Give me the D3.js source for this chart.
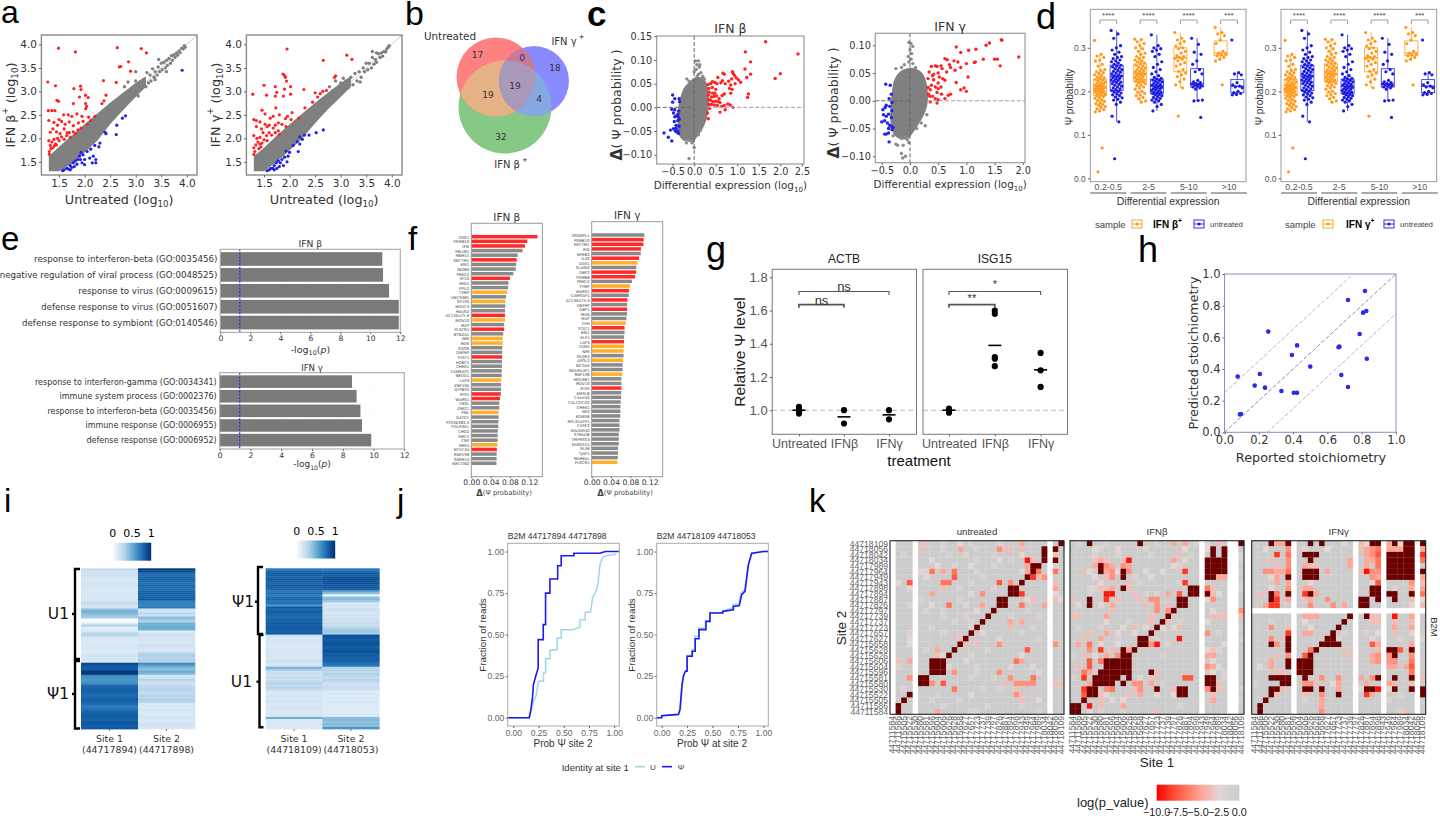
<!DOCTYPE html>
<html><head><meta charset="utf-8">
<style>html,body{margin:0;padding:0;background:#fff;overflow:hidden}svg{display:block}</style>
<script src="https://cdnjs.cloudflare.com/ajax/libs/d3/7.8.5/d3.min.js"></script>
</head><body>
<script>
// ---------- DATA: panel a ----------
const aCloudX=[1.3,1.5,1.75,2.0,2.25,2.5,2.75,3.0,3.2];
const a1Upper=[1.62,1.82,2.06,2.3,2.53,2.76,2.97,3.18,3.32];
const a1Lower=[1.3,1.3,1.46,1.7,1.95,2.3,2.6,2.88,3.1];
const a2Upper=[1.62,1.8,2.06,2.3,2.53,2.76,2.97,3.18,3.32];
const a2Lower=[1.3,1.3,1.5,1.74,2.0,2.32,2.62,2.88,3.1];
const a1Red=[[1.49,3.92],[1.82,3.84],[2.64,3.93],[3.11,3.91],[3.21,3.82],[2.86,3.63],[2.68,3.52],[2.71,3.53],[1.28,3.2],[1.43,3.12],[2.37,3.23],[2.62,3.19],[2.9,3.43],[1.79,3.06],[1.92,3.11],[1.93,3.04],[1.46,2.81],[1.49,2.79],[1.9,2.88],[2.02,2.92],[2.07,2.87],[2.02,2.74],[2.42,2.92],[2.34,2.74],[2.38,2.8],[2.02,2.63],[1.78,2.74],[2.04,2.68],[1.29,2.59],[1.36,2.59],[1.42,2.59],[1.3,2.38],[1.5,2.4],[1.59,2.5],[1.68,2.5],[1.75,2.47],[1.85,2.52],[1.95,2.47],[2.08,2.45],[2.2,2.47],[1.4,2.34],[1.47,2.28],[1.55,2.36],[1.62,2.3],[1.7,2.35],[1.78,2.27],[1.88,2.33],[1.97,2.36],[2.05,2.3],[2.12,2.38],[1.33,2.13],[1.38,2.2],[1.45,2.14],[1.52,2.1],[1.6,2.2],[1.66,2.12],[1.72,2.02],[1.78,2.14],[1.82,2.1],[1.87,2.18],[1.93,2.22],[1.3,1.95],[1.33,1.85],[1.36,1.92],[1.4,1.98],[1.43,1.88],[1.47,2.0],[1.5,1.95],[1.55,2.03],[1.6,1.98],[1.31,1.72],[1.34,1.78],[1.38,1.8],[1.41,1.84],[1.45,1.86],[1.31,1.66],[1.65,2.06],[1.7,2.12]];
const a1Blue=[[3.91,3.45],[2.8,2.48],[2.74,2.43],[2.63,2.28],[2.62,2.08],[2.42,2.1],[2.4,2.13],[2.3,1.9],[2.28,1.82],[2.2,1.85],[2.12,1.77],[2.17,1.62],[2.22,1.55],[2.22,1.48],[2.1,1.58],[2.0,1.55],[1.97,1.65],[1.93,1.7],[2.05,1.72],[1.87,1.55],[1.9,1.62],[1.82,1.52],[1.85,1.45],[1.95,1.48],[1.78,1.48],[1.75,1.38],[1.72,1.42],[1.68,1.35],[1.65,1.36],[1.6,1.33],[1.57,1.31],[1.72,1.33],[1.8,1.4],[1.92,1.55],[2.0,1.44],[2.15,1.48]];
const a1Grey=[[2.9,3.02],[2.95,2.98],[3.0,3.22],[3.05,3.02],[3.08,3.2],[3.12,3.1],[3.15,3.25],[3.2,3.1],[3.22,3.4],[3.25,3.18],[3.28,3.35],[3.3,3.22],[3.33,3.48],[3.36,3.3],[3.38,3.42],[3.42,3.35],[3.44,3.52],[3.47,3.42],[3.5,3.6],[3.52,3.46],[3.55,3.62],[3.58,3.5],[3.6,3.66],[3.62,3.55],[3.65,3.7],[3.68,3.6],[3.7,3.76],[3.72,3.66],[3.75,3.78],[3.77,3.72],[3.8,3.82],[3.82,3.77],[3.85,3.86],[3.87,3.82],[3.9,3.92],[3.93,3.9],[3.95,3.97],[3.97,3.94],[3.0,3.42],[3.38,3.25],[3.05,2.9],[3.6,3.42],[3.45,3.68],[2.78,3.1],[2.85,3.2]];
const a2Red=[[1.95,3.9],[2.66,3.66],[3.12,3.77],[3.22,3.68],[2.9,3.33],[2.88,3.3],[1.87,3.37],[1.9,3.34],[1.92,3.3],[1.94,3.22],[1.28,2.94],[1.5,3.13],[1.72,3.1],[1.55,2.92],[1.75,2.98],[1.9,3.05],[2.02,3.1],[2.02,2.94],[2.28,3.04],[2.5,2.97],[2.65,3.0],[2.72,3.02],[2.6,2.95],[2.55,2.88],[1.72,2.9],[1.88,2.9],[2.45,2.77],[2.3,2.65],[1.3,2.4],[1.35,2.38],[1.46,2.6],[1.52,2.52],[1.73,2.65],[1.8,2.5],[1.68,2.47],[1.62,2.43],[1.92,2.42],[1.96,2.47],[2.05,2.55],[2.18,2.43],[1.35,2.25],[1.42,2.35],[1.45,2.2],[1.52,2.3],[1.56,2.25],[1.6,2.28],[1.68,2.22],[1.72,2.28],[1.78,2.33],[1.85,2.3],[1.93,2.25],[2.03,2.4],[1.3,2.06],[1.36,2.0],[1.42,2.02],[1.48,2.12],[1.55,2.06],[1.6,2.12],[1.65,2.07],[1.72,2.12],[1.78,2.16],[1.8,2.08],[1.3,1.8],[1.34,1.86],[1.38,1.92],[1.42,1.88],[1.46,1.9],[1.5,1.97],[1.56,1.95],[1.32,1.72],[1.4,1.78],[1.44,1.82],[1.3,1.66]];
const a2Blue=[[2.66,2.18],[2.52,2.12],[2.38,2.07],[2.29,2.07],[2.25,1.98],[2.2,2.03],[2.15,1.93],[2.2,1.88],[2.07,1.85],[2.17,1.72],[2.0,1.7],[1.97,1.62],[1.93,1.73],[1.9,1.6],[1.85,1.55],[1.82,1.48],[1.88,1.42],[1.78,1.52],[1.74,1.48],[1.7,1.42],[1.67,1.36],[1.63,1.36],[1.6,1.33],[1.56,1.31],[1.75,1.36],[1.8,1.4],[1.7,1.33],[1.95,1.5]];
const a2Grey=[[2.85,3.02],[2.92,2.95],[3.0,3.18],[3.05,3.0],[3.1,3.22],[3.15,3.08],[3.2,3.3],[3.24,3.14],[3.28,3.38],[3.32,3.22],[3.36,3.42],[3.4,3.3],[3.44,3.5],[3.47,3.42],[3.5,3.6],[3.53,3.46],[3.56,3.6],[3.6,3.5],[3.62,3.72],[3.65,3.58],[3.68,3.68],[3.7,3.62],[3.74,3.8],[3.77,3.72],[3.8,3.82],[3.82,3.75],[3.85,3.85],[3.88,3.84],[3.9,3.9],[3.93,3.94],[3.95,3.97],[3.7,3.82],[3.05,3.28],[3.38,3.2],[2.9,3.22],[2.78,3.1],[3.62,3.85]];

// ---------- DATA: panel b ----------
const vennSets=[{key:"G",color:"#86c886",cx:505,cy:107,r:46.5},{key:"R",color:"#ff8080",cx:496,cy:77,r:39.5},{key:"B",color:"#8a8aff",cx:534,cy:81,r:35}];
const vennRegions=[{sets:["R","G"],color:"#e6b184"},{sets:["G","B"],color:"#85a9e2"},{sets:["R","B"],color:"#c97a90"},{sets:["R","G","B"],color:"#a999ba"}];
const vennCounts=[17,0,18,19,19,4,32];

// ---------- DATA: panel c ----------
const c1Cloud=[[-.3,.02],[-.22,.04],[-.1,.052],[0,.06],[.1,.062],[.22,.058],[.3,.04],[.32,.012],[.28,-.02],[.2,-.04],[.1,-.055],[0,-.067],[-.1,-.07],[-.24,-.068],[-.33,-.058],[-.36,-.04],[-.36,-.01]];
const c1Grey=[[.03,.098],[.1,.098],[.06,.09],[.13,.09],[.05,.08],[.12,.085],[0,.075],[.16,.073],[-.17,.06],[.07,.065],[.1,.07],[.18,.062],[-.12,.055],[.24,.06],[.2,.065],[-.15,-.068],[-.18,-.075],[-.05,-.075],[0,-.085],[-.02,-.072],[-.1,-.07],[.1,-.058],[.15,-.048],[-.12,-.108]];
const c1Red=[[1.66,.1385],[2.41,.1125],[1.19,.117],[1.31,.096],[1.18,.081],[1.88,.061],[2.0,.071],[1.31,.07],[1.22,.063],[1.26,.028],[1.24,.021],[.89,.075],[.67,.072],[.91,.071],[.94,.067],[.7,.07],[.98,.062],[1.03,.058],[1.08,.053],[.87,.06],[.8,.055],[.66,.056],[.62,.052],[.95,.05],[.85,.047],[.72,.05],[.88,.038],[.82,.04],[.42,.054],[.48,.053],[.38,.05],[.32,.048],[.55,.063],[.53,.05],[.34,.04],[.42,.042],[.5,.038],[.35,.032],[.43,.03],[.48,.03],[.33,.026],[.4,.022],[.46,.023],[.52,.024],[.58,.018],[.65,.025],[.7,.028],[.85,.03],[.33,.016],[.38,.015],[.44,.012],[.5,.013],[.56,.012],[.6,.01],[.34,.006],[.4,.006],[.47,.005],[.54,.004],[.64,.002],[.7,.004],[.78,.007],[.84,.005],[.9,0],[.6,-.01],[.72,-.005],[.31,-.012],[.33,-.024],[.36,-.002]];
const c1Blue=[[-.7,-.054],[-.6,-.063],[-.55,-.048],[-.52,-.071],[-.48,-.045],[-.5,.026],[-.5,.011],[-.45,.018],[-.52,-.004],[-.48,-.012],[-.45,-.02],[-.42,-.018],[-.38,-.015],[-.36,-.008],[-.46,-.03],[-.42,-.038],[-.38,-.028],[-.35,-.025],[-.44,-.05],[-.4,-.052],[-.36,-.055],[-.35,-.04],[-.42,-.044],[-.38,-.05],[-.34,.012],[-.35,.018],[-.45,-.005],[-.37,-.02]];
const c2Cloud=[[-.27,.035],[-.18,.05],[-.05,.057],[.1,.056],[.22,.047],[.29,.025],[.3,0],[.26,-.018],[.17,-.036],[.07,-.052],[-.04,-.066],[-.17,-.067],[-.28,-.058],[-.33,-.035],[-.325,-.005],[-.3,.018]];
const c2Grey=[[-.02,.105],[.02,.103],[.05,.098],[0,.092],[.03,.085],[-.03,.08],[.02,.075],[-.02,.07],[.05,.067],[-.1,.065],[-.25,.058],[-.15,.06],[.1,.06],[.3,-.025],[.27,-.045],[.2,-.04],[.12,-.05],[-.08,-.065],[-.15,-.068],[-.05,-.07],[-.12,-.08],[-.22,-.08],[-.15,-.095],[-.13,-.103],[-.08,-.1],[-.25,-.078],[-.3,-.063],[-.02,-.075]];
const c2Red=[[1.62,.11],[1.63,.109],[1.35,.1],[1.41,.104],[1.17,.093],[1.04,.091],[.82,.097],[.9,.087],[.78,.072],[.85,.07],[1.3,.075],[1.5,.075],[1.55,.075],[1.93,.079],[1.6,.063],[1.14,.069],[1.16,.07],[1.0,.067],[1.03,.043],[.62,.076],[.66,.074],[.7,.065],[.55,.063],[.45,.063],[.38,.062],[.48,.062],[.57,.058],[.72,.06],[.9,.06],[.8,.055],[.65,.052],[.5,.05],[.42,.048],[.34,.052],[.4,.045],[.52,.043],[.58,.04],[.32,.04],[.42,.038],[.5,.032],[.62,.037],[.82,.033],[.96,.023],[.9,.02],[1.0,.017],[.55,.025],[.45,.025],[.5,.022],[.32,.024],[.38,.028],[.36,.02],[.48,.015],[.56,.012],[.68,.01],[.72,.012],[.62,.004],[.4,.008],[.45,.004],[.35,.008],[.33,.012],[.5,.002],[.48,-.004],[.36,-.002]];
const c2Blue=[[-.43,.03],[-.35,.028],[-.33,.012],[-.37,.004],[-.32,-.003],[-.42,-.008],[-.48,-.016],[-.44,-.012],[-.36,-.01],[-.32,-.018],[-.5,-.038],[-.47,-.025],[-.42,-.028],[-.38,-.024],[-.33,-.03],[-.45,-.036],[-.4,-.04],[-.36,-.044],[-.33,-.046],[-.38,-.05],[-.45,-.06],[-.42,-.06],[-.38,-.058],[-.32,-.052],[-.37,-.074],[-.3,-.048]];

// ---------- DATA: panel d ----------
const dBins=["0.2-0.5","2-5","5-10",">10"];
const dStars=["****","****","****","***"];
const dBoxOrange=[[.153,.19,.207,.228,.285],[.175,.222,.24,.263,.32],[.208,.245,.277,.3,.335],[.27,.282,.288,.316,.347]];
const dBoxBlue=[[.13,.202,.235,.26,.34],[.155,.195,.212,.228,.33],[.178,.21,.217,.252,.322],[.192,.197,.212,.227,.243]];
const dOrange=[
[.317,.285,.281,.278,.272,.27,.262,.258,.25,.248,.245,.243,.241,.238,.236,.233,.231,.23,.227,.226,.224,.222,.22,.219,.217,.215,.214,.213,.212,.21,.209,.208,.206,.205,.204,.203,.202,.2,.199,.198,.197,.195,.193,.192,.19,.188,.186,.184,.181,.179,.177,.174,.172,.17,.168,.165,.163,.16,.158,.155,.153,.07,.015],
[.32,.319,.314,.31,.305,.3,.298,.292,.288,.285,.28,.278,.275,.272,.27,.268,.265,.263,.26,.258,.256,.254,.252,.25,.248,.246,.245,.243,.241,.24,.238,.236,.235,.233,.231,.23,.228,.226,.225,.223,.222,.22,.218,.215,.213,.21,.208,.205,.2,.198,.195,.192,.19,.186,.183,.178,.175],
[.335,.322,.318,.315,.31,.304,.3,.298,.292,.288,.282,.28,.278,.276,.274,.27,.266,.262,.258,.25,.246,.242,.238,.234,.228,.222,.215,.208,.143],
[.347,.335,.332,.328,.318,.31,.292,.288,.286,.284,.282,.278,.274,.27,.215]];
const dBlue=[
[.34,.332,.322,.305,.3,.295,.29,.285,.28,.278,.275,.272,.27,.268,.265,.262,.26,.258,.256,.254,.252,.25,.248,.246,.244,.242,.24,.238,.236,.235,.233,.232,.23,.228,.226,.225,.223,.221,.22,.218,.216,.214,.212,.21,.208,.206,.204,.202,.2,.198,.196,.194,.192,.19,.187,.185,.182,.18,.175,.17,.143,.13,.045],
[.33,.305,.3,.298,.295,.292,.285,.28,.268,.262,.255,.25,.245,.24,.236,.232,.23,.228,.226,.225,.223,.222,.22,.218,.216,.215,.214,.212,.21,.209,.208,.206,.205,.204,.202,.2,.199,.198,.196,.195,.193,.192,.19,.188,.186,.184,.182,.18,.178,.175,.17,.165,.155],
[.322,.308,.29,.285,.27,.262,.25,.245,.24,.225,.222,.22,.218,.217,.216,.215,.213,.212,.21,.208,.205,.18,.179,.178,.14],
[.318,.243,.24,.238,.22,.215,.212,.21,.208,.2,.197,.195,.193,.192]];

// ---------- DATA: panel e ----------
const e1Terms=["response to interferon-beta (GO:0035456)","negative regulation of viral process (GO:0048525)","response to virus (GO:0009615)","defense response to virus (GO:0051607)","defense response to symbiont (GO:0140546)"];
const e1Vals=[10.8,10.85,11.25,11.9,11.9];
const e2Terms=["response to interferon-gamma (GO:0034341)","immune system process (GO:0002376)","response to interferon-beta (GO:0035456)","immune response (GO:0006955)","defense response (GO:0006952)"];
const e2Vals=[8.6,8.9,9.15,9.25,9.85];

// ---------- DATA: panel f ----------
const f1Genes=["OAS1","PSMB10","IFI6","FBLIM1","RBM15","SECTM1","ERI1","INO80","PRKCZ","IFI16","MID1","PPIL2","TYMP","UNC93B1","SP100","HDDC3","HAUS2","AC136475.9","MOV10","MVP","PLSCR1","BTN2A1","NMI","MDK","SQOR","DNPEP","STAT1","H2BC5","CHEK1","CAMSAP1","NEDD1","LAP3","ZNF496","GTPBP2","IFI35","WARS1","CBSL","ZMIZ1","PML","GATD1","FP236383.3","POLR3GL","CHD2","SMC5","CNP","HES4","NT5C3A","RNF198","SMIM13","NECTIN2"];
const f1Vals=[.137,.116,.111,.106,.096,.094,.093,.092,.087,.08,.077,.076,.074,.072,.0705,.0705,.0698,.0698,.0698,.068,.068,.066,.065,.065,.064,.064,.064,.0635,.0635,.063,.063,.062,.0615,.0615,.061,.0595,.058,.058,.0565,.0565,.056,.056,.055,.0545,.0545,.054,.053,.0525,.0525,.052];
const f1Red=["OAS1","PSMB10","IFI6","SECTM1","IFI16","AC136475.9","PLSCR1","STAT1","IFI35","WARS1","NT5C3A"];
const f1Orange=["TYMP","SP100","MOV10","NMI","MDK","LAP3","PML","HES4"];
const f2Genes=["OSGEPL1","PSMB10","SECTM1","IFI6","NFKB2","IL32","OAS1","SLAIN2","GBP2","PSMB8","PRKCZ","TYMP","WARS1","CAMSAP1","AC136475.9","DNPEP","GBP1","MDK","MVP","CFH","STAT1","ERI1","ELF1","LAP3","TGM2","NMI","PAQR3","APOL2","NCOA6","NDUFA4P1","RNF198","HSD3B7","MOV10","IFI35","EMSLB","C4orf46","CALCOCO2","CHEK1","NF2","KDM5B","RPL35AP21","CASP2","KIAA0040","STRADB","TMPRSS3","FAM241A","RLIM","TJAP1","MAREAL","PLSCR1"];
const f2Vals=[.109,.1077,.107,.102,.1015,.098,.095,.0925,.092,.09,.0835,.0795,.0775,.0765,.074,.0733,.0733,.0733,.072,.0705,.068,.068,.067,.067,.067,.066,.066,.065,.064,.064,.063,.0615,.0615,.0615,.061,.061,.06,.0595,.0595,.059,.0575,.0575,.0575,.056,.056,.056,.0545,.0545,.054,.053];
const f2Red=["PSMB10","SECTM1","IFI6","IL32","GBP2","PSMB8","WARS1","AC136475.9","GBP1","STAT1","LAP3","IFI35"];
const f2Orange=["OAS1","TYMP","CFH","TGM2","NMI","APOL2","RNF198","PLSCR1"];

// ---------- DATA: panel g ----------
const gTreatments=["Untreated","IFNβ","IFNγ"];
const gACTB=[[1.02,1.01,1.0,.99,.98],[1.0,.92],[1.0,.945]];
const gACTBMeans=[1.0,.96,.972];
const gISG15=[[1.01,1.0,.985],[1.6,1.58,1.32,1.31,1.265],[1.345,1.24,1.14]];
const gISG15Means=[1.0,1.39,1.243];

// ---------- DATA: panel h ----------
const hPoints=[[.077,.352],[.096,.116],[.09,.113],[.176,.295],[.206,.368],[.236,.282],[.255,.636],[.332,.261],[.393,.488],[.404,.25],[.423,.25],[.423,.549],[.5,.415],[.665,.537],[.67,.541],[.681,.362],[.72,.836],[.72,.286],[.788,.621],[.808,.756],[.827,.766],[.819,.893],[.83,.465]];

// ---------- DATA: panel i ----------
const heat1Site1=[.25,.2,.2,.22,.18,.16,.16,.18,.2,.17,.16,.15,.16,.18,.15,.15,.2,.26,.2,.17,.42,.5,.45,.4,.35,0,0,.12,.32,.1,.13,.15,.3,.28,.16,.15,.14,.13,.15,.16,.14,.13,.16,.18,.15,.17,.14,.9,.85,.82,.85,.97,.97,.65,.62,.6,.62,.65,.78,.8,.82,.8,.78,.76,.8,.82,.8,.78,.7,.72,.76,.8,.82,.84,.82,.8,.85,.84,.82,.85];
const heat1Site2=[.96,.9,.8,.78,.8,.82,.78,.76,.8,.78,.76,.8,.82,.8,.82,.84,.72,.7,.68,.72,.22,.18,.3,.2,.42,.38,.3,.5,.48,.52,.48,.1,.18,.2,.16,.18,.15,.17,.2,.18,.16,.18,.3,.32,.28,.32,.3,.65,.55,.45,.42,.5,.45,.15,.2,.3,.22,.2,.25,.28,.3,.27,.25,.3,.28,.32,.3,.15,.16,.14,.18,.15,.14,.16,.18,.15,.14,.2,.18,.16];
const heat2Site1=[.72,.8,.84,.82,.8,.85,.82,.8,.84,.82,.8,.72,.78,.7,.76,.8,.74,.78,.6,.84,.8,.85,.82,.8,.78,.82,.8,.84,.82,.85,.83,.8,.84,.2,.14,.16,.18,.15,.16,.14,.17,.15,.18,.16,.15,.17,.2,.16,.18,.48,.35,.2,.22,.18,.24,.2,.26,.3,.24,.3,.22,.16,.14,.18,.16,.15,.18,.14,.16,.17,.15,.14,.16,.15,.5,.15,.13,.16,.14,.15];
const heat2Site2=[.72,.78,.85,.82,.88,.9,.86,.88,.84,.86,.82,.55,.42,.03,.42,.45,.35,.16,.2,.15,.22,.18,.16,.2,.18,.22,.2,.24,.22,.3,.35,.38,.32,.88,.85,.82,.86,.88,.84,.82,.85,.88,.82,.84,.8,.82,.78,.75,.72,.28,.3,.26,.32,.28,.25,.3,.26,.2,.22,.24,.2,.13,.15,.12,.14,.12,.16,.14,.12,.15,.13,.12,.14,.13,.42,.45,.4,.44,.42,.6];

// ---------- DATA: panel j ----------
const j1Psi=[[-.055,0],[.158,0],[.175,.05],[.19,.12],[.2,.2],[.222,.25],[.247,.3],[.247,.47],[.297,.47],[.297,.56],[.32,.56],[.32,.75],[.363,.75],[.363,.835],[.44,.835],[.44,.915],[.475,.915],[.475,.975],[.6,.975],[.6,.99],[.86,.99],[.91,1],[1.05,1]];
const j1U=[[-.055,0],[.165,0],[.18,.05],[.2,.1],[.225,.13],[.25,.22],[.3,.22],[.3,.27],[.32,.27],[.32,.355],[.363,.355],[.363,.405],[.435,.41],[.435,.48],[.475,.48],[.475,.53],[.594,.53],[.66,.545],[.66,.59],[.713,.59],[.713,.635],[.765,.635],[.785,.72],[.825,.77],[.84,.81],[.858,.92],[.89,.97],[1.02,.985]];
const j2Psi=[[-.049,0],[0,0],[0,.012],[.165,.02],[.18,.05],[.2,.2],[.213,.25],[.233,.28],[.25,.28],[.25,.37],[.3,.37],[.3,.4],[.33,.4],[.33,.475],[.367,.475],[.367,.53],[.436,.53],[.436,.58],[.475,.58],[.475,.63],[.6,.63],[.6,.64],[.705,.65],[.705,.67],[.764,.675],[.787,.74],[.82,.76],[.853,.92],[.885,.99],[1,1],[1.049,1]];
const j2U=[[-.049,0],[0,0],[0,.012],[.165,.02],[.185,.05],[.205,.2],[.218,.26],[.238,.285],[.25,.285],[.25,.375],[.3,.375],[.3,.41],[.325,.41],[.325,.49],[.362,.49],[.362,.54],[.43,.54],[.43,.58],[.475,.58],[.475,.63],[.6,.63],[.6,.645],[.7,.66],[.7,.68],[.76,.685],[.78,.75],[.815,.77],[.85,.92],[.885,.985],[1,1],[1.049,1]];

// ---------- DATA: panel k ----------
const kSites=["44711584","44711586","44715505","44715522","44715530","44715580","44715581","44715596","44715604","44715606","44715626","44715628","44715658","44717627","44717657","44717723","44717737","44717739","44717797","44717826","44717887","44717894","44717898","44717943","44717949","44717964","44717989","44718034","44718042","44718056","44718109"];
const kUntreated=["6:3 9:1 12:2 23:4 30:X 19:1 14:1","5:3 12:4 19:5 20-21:3 23:3 27:X 29:X 9:1 15:1","2:1 13:1 23:2 27:X 29:3 10:1 18:1","7:2 19:2 24:9 25:3 27:X 29:X 15:1 21:1","8:2 14:2 24:4 25-26:X 11:1 18:1 29:1","5:2 6:1 7:6 9:4 11:6 23:2 24:4 25:X 26:6 29:6 15:1","6:2 11:7 24:X 25:8 26:3 27:5 16:1","1:2 3:7 9-10:6 19:7 21:5 23:X 29:3 14:1","3:2 9:3 21-22:X 29:4 12:1 18:1","7:4 14:2 16:5 21-22:X 23:8 29:2","12:1 19-20:X 24:2 25:3 29:3 30:2 5:1","7:2 10:6 13:2 16:4 19-20:X 23:6 27:4 3:1","9:1 15:2 18:X 6:1 24:1","17:X 21:1 9:1 13:1 26:1","14:1 16:X 21:4 23:4 11:1","14:1 15:X 21:3 7:1 25:1","14:X 16:2 9:1 23:1 3:1","3:2 12:3 13:X 19:2 26:1","3:2 12:X 13:3 15:3 19:5 29:5","8:4 11:X 24:7 6:1 17:1","8:3 9:2 10:X 23:2 14:1","1:3 3:4 7-9:X 13:2 22:6 23:4","7-9:X 10:2 21:2 25:2 15:1 1:1","7-9:X 11:5 19:5 26:2 15:1","3:5 5-6:X 21:5 25:6 14:1 18:1","5-6:X 7:5 9:7 20:3 22-25:5 29-30:3","2:1 11:6 22:3 16:1 19:1","3:X 14:2 22:5 23:3 8:1","2:X 7:1 23:3 26:2 12:1","1:X 23:1 9:1 17:1","1:X 8:4 14:1 15:1 26:1"];
const kBeta=["1:1 3:X 6:1 12:X 15:1 18:4 20:4 22:1 24:2 26:3 30:X","4:2 5:1 8:2 13:1 20:2 24:2 25:X 27:X","4:1 8:1 14:1 19:3 21:1 25:X 27:X 30:1","4:3 5:4 6:3 9:3 10:9 18:4 20:2 24-27:X 30:1","4:4 5:X 6:5 7:4 9:5 10:4 18:2 19:1 24-27:X","2:3 3:2 5:X 6:4 7:5 8:2 9:X 10:5 13:2 16:2 20:8 24-27:X 30:1","4:2 6:3 7:5 9:X 11:1 14:2 24-25:X 26-27:4","5:2 10:3 12:1 19:1 20:8 30:1","3:1 4:1 5:3 6:3 7:4 9:X 10:3 21-22:X 24:6 25:3 30:1","3:1 6-7:9 11:3 13:1 15:1 17:4 19:7 21-22:X 24:X 25:3 26:2","0:3 3:X 6:8 8:3 12:3 14:5 15:5 19-20:X 24:2 25:5","1:2 3:X 5:2 7:4 13:3 15:5 17:3 19-20:X","7:3 15:5 17:5 18:X 25:2 30:5","0-1:3 6:4 14:3 17:X 25-27:3 30:3","6:2 10:1 14:3 16:X 17:3 19:1 24:2","1:1 5:1 9:2 11:3 13:2 15:X 16:2 18:2 19:3 30:1","3:3 6:4 8:2 11:2 14:X 24:5 26:1","2:3 5:4 8:1 12-13:X 15:1 19:9 30:1","1:4 3:6 5:2 8:2 12-13:X 14:5 15:9 17:1 27:2","3:5 5:8 7:3 9:X 10:4 11:X 24:2 25:3 26:1","0:1 2:3 4:2 6:4 8:5 9-10:X 16:1 24-25:4","3:7 5:6 6-10:X 25:2","1:3 3:7 6-10:X 24:5 25:4 26:2","2:6 3:4 5-10:X 14:X 15:3 25:2 27:1","0:1 2:8 4-8:X 10:X 12:2 14:3 20-21:7 24-25:X 27:1","3:4 4-7:X 9:X 11:5 12:5 14:4 16:1 24-25:X 26:3","2:8 3-4:X 6:5 7:6 11:3 12:5 15:X 18:3 19-20:X 24:5 25:X 26:3 30:1","2:7 3-4:X 5:3 6:2 10:3 12:4 15:2 18:2 19-20:X 25:3","2:X 5:3 7:2 9:2 25:4 30:1","0-1:X 3:9 5:3 9:4 19:1","0-1:X 3:2 5:1 9:1 15:3"];
const kGamma=["3:X 4-5:4 6:X 10:X 12:X 16:2 19:3 20:2 21-22:X 24:4 25:X 26:2 27-28:X 30:X","2:2 6:5 9:1 13:2 19:3 20:4 21:5 22:6 24-26:4 27-28:X 30:4","4:8 6:6 9-11:X 20:4 21:5 22:7 24-28:X 30:8","3:3 6:5 10:X 17:4 20:4 21:4 22:6 24-28:X 30:6","4:3 6:5 9:4 10:3 11:3 17:4 20:4 22:6 24-28:X","2-3:5 4-5:4 6:6 9-11:X 13:4 19:3 20:9 21:5 22:5 24-28:X 30:X","3:2 4:4 6:X 9-11:X 21:5 22:4 24-28:X 30:4","4:4 6:4 10:2 21:2 22:7 28:5 30:3","3:2 6:5 9-10:4 21-22:X 25:1 28:4 30:4","1:3 3:X 4:6 6:X 9:8 10:X 11:4 21-22:X 24-25:X 28:X 30:6","3:X 4:8 6:4 9:3 10:4 13:5 19-20:X 22:X 25:X 28:3 30:2","2:4 3-4:8 10:5 14:5 16:4 19-20:X 28:2 30:3","","9-11:4 17:X 20:X 21:3 22:3 25:9 28:4","3:1 9:2 16:X 21:3 22:3 25:3 28:3","3:5 6:3 10:2 15:X 25:4 28:4","6:8 9:4 10:4 14:X 16:1 20:1 22:2 25:3 28:2","3:5 5:3 6:X 13-14:X 15:1 21:2 26:1 30:1","3:X 4:5 6:X 12-15:X 21:7 22:4 28:4","6:X 10:6 11:X 16:3 22:3 24-25:X 26:7 28:X","4:3 6:5 9:7 10:X 17:3 21:4 22:5 24:5 25:X 28:5","3:4 6:X 8-10:X 21:4 22:5 24:5 25:5 28:6","1:2 3:4 6:X 8-10:X 24-25:4 27:4 28:7","4:3 5:3 8-10:X 28:6","3-6:X 9:X 12:5 15:5 19:4 21:5 22:X 25:X 28:X 30:3","0:1 5-6:X 9:5 10:5 11:3 14:2 15:4 20:4 24:4 25:3 28:3","3-4:X 5:3 9:X 10:X 12:X 15:4 19:2 20-21:X 22:9 24:2 25:X 28:X 30:X","3:X 4:3 9:3 12:5 15:X 20:8 21:4 26:1 30:X","2:X 9:1 12:4 24:1","1:X 12:4","1:X 12:5 26:1 27:3"];
const kPanels=[{title:"untreated",rows:kUntreated,whiteCols:[0,4,28],whiteRows:[]},{title:"IFNβ",rows:kBeta,whiteCols:[23,28,29],whiteRows:[]},{title:"IFNγ",rows:kGamma,whiteCols:[7,18,23,29],whiteRows:[12]}];
const kLegendTicks=[-10,-7.5,-5,-2.5,0];

// ---------- HELPERS ----------
const DJ="'DejaVu Sans'", LB="'Liberation Sans'";
const svg=d3.select("body").append("svg").attr("width",1440).attr("height",816).attr("viewBox","0 0 1440 816");
const defs=svg.append("defs");
function txt(x,y,s,o={}){
  const t=svg.append("text").attr("x",x).attr("y",y).attr("font-family",o.font||DJ).attr("font-size",o.size||10)
    .attr("fill",o.fill||"#333").attr("text-anchor",o.anchor||"middle").attr("dominant-baseline",o.base||"central");
  if(o.weight)t.attr("font-weight",o.weight);
  if(o.rot!==undefined)t.attr("transform",`rotate(${o.rot},${x},${y})`);
  const parts=Array.isArray(s)?s:[[s]];
  parts.forEach(p=>{const ts=t.append("tspan").text(p[0]);
    if(p[1]==="sub")ts.attr("baseline-shift","sub").attr("font-size","68%");
    if(p[1]==="sup")ts.attr("baseline-shift","super").attr("font-size","68%");
    if(p[1]==="bold")ts.attr("font-weight","bold").attr("font-size","125%");
    if(p[1]==="ital")ts.attr("font-style","italic");});
  return t;
}
function frame(b,c="#8a8a8a",w=1.4){svg.append("rect").attr("x",b.x0).attr("y",b.y0).attr("width",b.x1-b.x0).attr("height",b.y1-b.y0).attr("fill","none").attr("stroke",c).attr("stroke-width",w);}
function xAxis(scale,y,vals,fmt,o={}){
  const g=svg.append("g").attr("transform",`translate(0,${y})`).call(d3.axisBottom(scale).tickValues(vals).tickFormat(fmt).tickSize(o.tick??2.5).tickPadding(o.pad??2));
  g.select(".domain").remove();g.selectAll("line").attr("stroke",o.lc||"#666");
  g.selectAll("text").attr("font-family",o.font||DJ).attr("font-size",o.size||10).attr("fill",o.fill||"#333");return g;
}
function yAxis(scale,x,vals,fmt,o={}){
  const g=svg.append("g").attr("transform",`translate(${x},0)`).call(d3.axisLeft(scale).tickValues(vals).tickFormat(fmt).tickSize(o.tick??2.5).tickPadding(o.pad??2));
  g.select(".domain").remove();g.selectAll("line").attr("stroke",o.lc||"#666");
  g.selectAll("text").attr("font-family",o.font||DJ).attr("font-size",o.size||10).attr("fill",o.fill||"#333");return g;
}
function dots(data,x,y,r,c,op=1){svg.append("g").selectAll("circle").data(data).join("circle").attr("cx",d=>x(d[0])).attr("cy",d=>y(d[1])).attr("r",r).attr("fill",c).attr("opacity",op);}
function seg(x1,y1,x2,y2,c,w=1,dash){const l=svg.append("line").attr("x1",x1).attr("y1",y1).attr("x2",x2).attr("y2",y2).attr("stroke",c).attr("stroke-width",w);if(dash)l.attr("stroke-dasharray",dash);return l;}
function plab(x,y,s,o={}){txt(x,y,s,{font:LB,size:o.size||33,fill:"#000",anchor:"start",base:"auto",weight:o.weight});}
const RED="#ff2222",BLUE="#2222e6",GREY="#808080";

// ---------- PANEL a ----------
function panelA(b,up,lo,red,blue,grey,ylab){
  const x=d3.scaleLinear().domain([1.155,4.2]).range([b.x0,b.x1]);
  const y=d3.scaleLinear().domain([1.22,4.2]).range([b.y1,b.y0]);
  seg(x(1.3),y(1.3),x(4.2),y(4.2),"#c8c8c8",1);
  const cloud=aCloudX.map((v,i)=>[v,up[i],lo[i]]);
  svg.append("path").datum(cloud).attr("fill",GREY).attr("d",d3.area().x(d=>x(d[0])).y0(d=>y(d[2])).y1(d=>y(d[1])));
  dots(grey,x,y,1.7,GREY);dots(blue,x,y,1.6,BLUE);dots(red,x,y,1.6,RED);
  frame(b);
  const v=[1.5,2,2.5,3,3.5,4];
  xAxis(x,b.y1,v,d3.format(".1f"),{size:10.5});yAxis(y,b.x0,v,d3.format(".1f"),{size:10.5});
  txt((b.x0+b.x1)/2,199,[["Untreated (log"],["10","sub"],[")"]],{size:12.8});
  txt(b.x0-31,105,ylab,{size:12.8,rot:-90});
}
panelA({x0:41.4,x1:197,y0:35,y1:175},a1Upper,a1Lower,a1Red,a1Blue,a1Grey,[["IFN β"],["+","sup"],["  (log"],["10","sub"],[")"]]);
panelA({x0:246.4,x1:402,y0:35,y1:175},a2Upper,a2Lower,a2Red,a2Blue,a2Grey,[["IFN γ"],["+","sup"],["  (log"],["10","sub"],[")"]]);
plab(1,23,"a",{size:32});

// ---------- PANEL b ----------
const vennByKey=Object.fromEntries(vennSets.map(s=>[s.key,s]));
vennSets.forEach(s=>{
  defs.append("clipPath").attr("id","clip"+s.key).append("circle").attr("cx",s.cx).attr("cy",s.cy).attr("r",s.r);
});
svg.append("g").selectAll("circle").data(vennSets).join("circle").attr("cx",d=>d.cx).attr("cy",d=>d.cy).attr("r",d=>d.r).attr("fill",d=>d.color);
vennRegions.forEach(reg=>{
  let parent=svg.append("g");
  reg.sets.slice(1).forEach(k=>{parent=parent.attr("clip-path",`url(#clip${k})`).append("g");});
  const s=vennByKey[reg.sets[0]];
  parent.append("circle").attr("cx",s.cx).attr("cy",s.cy).attr("r",s.r).attr("fill",reg.color);
});
[[477.5,55],[522,58],[555,68],[515,86],[488,95],[539,99],[501,137]].forEach((p,i)=>txt(p[0],p[1],String(vennCounts[i]),{size:9,fill:i===1?"#2222cc":"#333"}));
txt(450,36,"Untreated",{size:10.4});
txt(568,41,[["IFN γ"],[" +","sup"]],{size:10});
txt(511,164,[["IFN β"],[" +","sup"]],{size:10});
plab(405,25,"b",{size:34});

// ---------- PANEL c ----------
function panelC(b,xd,yd,xv,yv,cloud,grey,red,blue,title,titleY,ylabX,xlabY,yFmt){
  const x=d3.scaleLinear().domain(xd).range([b.x0,b.x1]);
  const y=d3.scaleLinear().domain(yd).range([b.y1,b.y0]);
  svg.append("path").datum(cloud).attr("fill",GREY).attr("stroke",GREY).attr("stroke-width",2).attr("d",d3.line().x(d=>x(d[0])).y(d=>y(d[1])).curve(d3.curveCardinalClosed));
  dots(grey,x,y,1.7,"#8c8c8c");dots(blue,x,y,1.7,BLUE);dots(red,x,y,1.7,RED);
  seg(x(0),b.y0,x(0),b.y1,"#666",1,"4 2");
  seg(b.x0,y(0),x(0),y(0),"#666",1,"4 2");
  seg(x(.3),y(0),b.x1,y(0),"#a89aa8",1,"4 2");
  frame(b,"#999",1.2);
  xAxis(x,b.y1,xv,d3.format(".1f"),{size:9.7,fill:"#333"}).selectAll("text").text(d=>d3.format(".1f")(d).replace("-","−"));
  yAxis(y,b.x0,yv,yFmt,{size:9.7}).selectAll("text").text(d=>yFmt(d).replace("-","−"));
  txt((b.x0+b.x1)/2,xlabY,[["Differential expression (log"],["10","sub"],[")"]],{size:10.4});
  txt((b.x0+b.x1)/2,titleY,title,{size:12.5});
  txt(ylabX,(b.y0+b.y1)/2+5,[["Δ","bold"],["( Ψ probability )"]],{size:12.6,rot:-90});
}
panelC({x0:656.7,x1:804,y0:36,y1:164},[-.87,2.55],[-.1195,.1505],[-.5,0,.5,1,1.5,2,2.5],[-.1,-.05,0,.05,.1,.15],c1Cloud,c1Grey,c1Red,c1Blue,"IFN β",28,616,185,d3.format(".2f"));
panelC({x0:875.3,x1:1025,y0:33.3,y1:162.7},[-.615,2.04],[-.1115,.1216],[-.5,0,.5,1,1.5,2],[-.1,-.05,0,.05,.1],c2Cloud,c2Grey,c2Red,c2Blue,"IFN γ",25.5,833,184,d3.format(".2f"));
plab(587,26,"c",{weight:"bold",size:35});

// ---------- PANEL d ----------
const dOrg="#ff9a1a",dBlu="#1c1ce0";
function panelD(b,legend,ylabX){
  const x=d3.scalePoint().domain(dBins).range([b.x0+18,b.x1-17]);
  const y=d3.scaleLinear().domain([-.0077,.3886]).range([b.y1,b.y0]);
  const off=8.35,bw=13;
  dBins.forEach((cat,ci)=>{
    [[dBoxOrange,dOrange,dOrg,-off],[dBoxBlue,dBlue,dBlu,off]].forEach(([bx,pts,col,dx])=>{
      const c=x(cat)+dx,s=bx[ci];
      // jitter is a display spread only, not data
      svg.append("g").selectAll("circle").data(pts[ci]).join("circle")
        .attr("cx",(d,i)=>c+((i*0.618034)%1-.5)*11).attr("cy",d=>y(d)).attr("r",1.6).attr("fill",col);
      svg.append("rect").attr("x",c-bw/2).attr("y",y(s[3])).attr("width",bw).attr("height",y(s[1])-y(s[3])).attr("fill","none").attr("stroke",col).attr("stroke-width",.9).attr("opacity",.85);
      seg(c-bw/2,y(s[2]),c+bw/2,y(s[2]),col,1.3,null).attr("opacity",.9);
      seg(c,y(s[3]),c,y(s[4]),col,.9).attr("opacity",.85);seg(c,y(s[1]),c,y(s[0]),col,.9).attr("opacity",.85);
    });
    const c=x(cat);
    svg.append("path").attr("d",d3.line()([[c-off,24],[c-off,20],[c+off,20],[c+off,24]])).attr("fill","none").attr("stroke","#888").attr("stroke-width",.8);
    txt(c,15,dStars[ci],{font:LB,size:8,fill:"#444"});
    txt(c,187,cat,{font:LB,size:8.8,fill:"#555"});
    seg(c-18,193,c+18,193,"#555",1);
  });
  frame(b,"#8f8f99",.9);
  yAxis(y,b.x0,[0,.1,.2,.3],d3.format(".1f"),{font:LB,size:8.5,fill:"#555"});
  txt(ylabX,97,"Ψ probability",{font:LB,size:10,fill:"#333",rot:-90});
  txt((b.x0+b.x1)/2,201,"Differential expression",{font:LB,size:10.4,fill:"#333"});
  const L=legend;
  txt(L.s,224,"sample",{font:LB,size:9.5,anchor:"start",fill:"#444"});
  [[L.k1,dOrg],[L.k2,dBlu]].forEach(([k,c])=>{
    svg.append("rect").attr("x",k-5).attr("y",220).attr("width",10).attr("height",8).attr("fill","none").attr("stroke",c).attr("stroke-width",.9);
    seg(k-5,224,k+5,224,c,.9);svg.append("circle").attr("cx",k).attr("cy",224).attr("r",1.6).attr("fill",c);
  });
  txt(L.t,224,L.label,{font:LB,size:10,anchor:"start",fill:"#000",weight:"bold"});
  txt(L.u,224,"untreated",{font:LB,size:7.8,anchor:"start",fill:"#444"});
}
panelD({x0:1090.3,x1:1246,y0:9.3,y1:181.7},{s:1095,k1:1137,k2:1199,t:1153,u:1210,label:[["IFN β"],["+","sup"]]},1069);
panelD({x0:1281,x1:1436.7,y0:9.3,y1:181.7},{s:1285,k1:1328,k2:1389,t:1346,u:1400,label:[["IFN γ"],["+","sup"]]},1259);
plab(1036,29,"d",{size:36});

// ---------- PANEL e ----------
function panelE(b,terms,vals,title,titleY,tickSize,titleSize){
  const x=d3.scaleLinear().domain([0,12]).range([b.x0,b.x1]);
  const y=d3.scaleBand().domain(terms).range([b.y0,b.y1]).paddingInner(.14).paddingOuter(.18);
  [2,4,6,8,10].forEach(v=>seg(x(v),b.y0,x(v),b.y1,"#e8e8e8",.6,"1 2"));
  svg.append("g").selectAll("rect").data(terms).join("rect").attr("x",x(0)).attr("y",d=>y(d)).attr("width",(d,i)=>x(vals[i])-x(0)).attr("height",y.bandwidth()).attr("fill","#7a7a7a");
  seg(x(1.3),b.y0,x(1.3),b.y1,"#2a2af0",1.2,"2 1.5");
  frame(b,"#a8a8a8",1.1);
  xAxis(x,b.y1,[0,2,4,6,8,10,12],d3.format("d"),{size:7.6,tick:2,pad:1.5});
  terms.forEach(t=>txt(b.x0-3,y(t)+y.bandwidth()/2,t,{size:tickSize,anchor:"end",fill:"#333"}));
  txt((b.x0+b.x1)/2,titleY,title,{size:titleSize});
}
panelE({x0:220.3,x1:400.3,y0:249.3,y1:332.3},e1Terms,e1Vals,"IFN β",243,8.66,9.2);
txt(310.5,349,[["-log"],["10","sub"],["("],["p","ital"],[")"]],{size:9.5});
panelE({x0:219.7,x1:404.3,y0:372.7,y1:449},e2Terms,e2Vals,"IFN γ",367.5,8,8.6);
txt(312,464,[["-log"],["10","sub"],["("],["p","ital"],[")"]],{size:9});
plab(1,250,"e");

// ---------- PANEL f ----------
function panelF(b,genes,vals,red,orange,first,last,title,titleY){
  const x=d3.scaleLinear().domain([0,.147]).range([b.x0,b.x1]);
  const y=d3.scalePoint().domain(genes).range([first,last]);
  const color=g=>red.includes(g)?"#ff2a2a":orange.includes(g)?"#ffb028":"#8a8a8a";
  svg.append("g").selectAll("rect").data(genes).join("rect").attr("x",x(0)).attr("y",d=>y(d)-1.75).attr("width",(d,i)=>x(vals[i])-x(0)).attr("height",3.5).attr("fill",color);
  frame(b,"#999",1);
  xAxis(x,b.y1,[0,.04,.08,.12],d3.format(".2f"),{size:7.6,tick:1.5,pad:1.5});
  genes.forEach(g=>txt(b.x0-2,y(g),g,{size:3.9,anchor:"end",fill:"#444"}));
  txt((b.x0+b.x1)/2,titleY,title,{size:10.5});
}
panelF({x0:471.3,x1:542.3,y0:223.3,y1:476.7},f1Genes,f1Vals,f1Red,f1Orange,236.7,463.3,"IFN β",217);
panelF({x0:591.7,x1:662.7,y0:221.7,y1:476.7},f2Genes,f2Vals,f2Red,f2Orange,235,462.3,"IFN γ",215);
txt(504,493,[["Δ","bold"],["(Ψ probability)"]],{size:6.8,fill:"#444"});
txt(625,492.5,[["Δ","bold"],["(Ψ probability)"]],{size:6.8,fill:"#444"});
plab(408,250,"f");

// ---------- PANEL g ----------
function panelG(b,title,groups,means,cx,star1,star2,showY){
  const x=d3.scalePoint().domain(gTreatments).range(cx);
  const y=d3.scaleLinear().domain([.855,1.848]).range([b.y1,b.y0]);
  seg(b.x0,y(1),b.x1,y(1),"#bbb",1,"5 3");
  gTreatments.forEach((t,i)=>{
    dots(groups[i].map(v=>[t,v]),x,y,3.1,"#000");
    seg(x(t)-6.5,y(means[i]),x(t)+6.5,y(means[i]),"#000",1.6);
  });
  frame(b,"#777",1);
  if(showY)yAxis(y,b.x0,[1,1.2,1.4,1.6,1.8],d3.format(".1f"),{font:LB,size:13,fill:"#555",tick:2.5,pad:2});
  xAxis(x,b.y1,gTreatments,d=>d,{font:LB,size:12.5,fill:"#555",tick:2,pad:3});
  const mid=x("IFNβ");
  txt(mid,259,title,{font:LB,size:12,fill:"#222"});
  const a=cx[0],e=cx[1];
  const br=(x1,x2,lev,w)=>svg.append("path").attr("d",d3.line()([[x1,y(lev-.02)],[x1,y(lev)],[x2,y(lev)],[x2,y(lev-.02)]])).attr("fill","none").attr("stroke","#555").attr("stroke-width",w);
  br(a,e,1.714,1.1);br(a,mid,1.636,1.7);
  txt(mid,star1.y,star1.s,{font:LB,size:star1.z,fill:"#333"});
  txt((a+mid)/2,star2.y,star2.s,{font:LB,size:star2.z,fill:"#333"});
}
panelG({x0:772.2,x1:916.5,y0:269.3,y1:434.3},"ACTB",gACTB,gACTBMeans,[799,889],{s:"ns",y:286,z:13},{s:"ns",y:300,z:13},true);
panelG({x0:923,x1:1067.5,y0:269.3,y1:434.3},"ISG15",gISG15,gISG15Means,[949,1040.6],{s:"*",y:284,z:11},{s:"**",y:298,z:11},false);
txt(919,460,"treatment",{font:LB,size:15,fill:"#111"});
txt(739,352,"Relative Ψ level",{font:LB,size:15.5,fill:"#222",rot:-90});
plab(706,262,"g",{size:36});

// ---------- PANEL h ----------
{
  const b={x0:1224.5,x1:1396,y0:274,y1:432.3};
  const x=d3.scaleLinear().domain([0,1]).range([b.x0,b.x1]);
  const y=d3.scaleLinear().domain([0,1]).range([b.y1,b.y0]);
  seg(x(0),y(0),x(1),y(1),"#7a7ab8",.9,"4 2");
  seg(x(0),y(.25),x(.75),y(1),"#c8a0b4",.9,"4 2");
  seg(x(.25),y(0),x(1),y(.75),"#c8a0b4",.9,"4 2");
  dots(hPoints,x,y,2.3,"#2a2ae8");
  frame(b,"#8c8cc0",1);
  const v=[0,.2,.4,.6,.8,1];
  xAxis(x,b.y1,v,d3.format(".1f"),{size:11.5,tick:2,pad:2});
  yAxis(y,b.x0,v,d3.format(".1f"),{size:11.5,tick:2,pad:2});
  txt(1311,457,"Reported stoichiometry",{size:12.8});
  txt(1193,353,"Predicted stoichiometry",{size:12.9,rot:-90});
  plab(1138,262,"h",{size:36});
}

// ---------- PANEL i ----------
function panelI(b,site1,site2,l1,l2,cb){
  const y=d3.scaleBand().domain(d3.range(site1.length)).range([b.y0,b.y1]);
  const x=d3.scaleBand().domain([0,1]).range([b.x0,b.x1]);
  [site1,site2].forEach((col,ci)=>{
    svg.append("g").selectAll("rect").data(col).join("rect").attr("x",x(ci)).attr("y",(d,i)=>y(i)).attr("width",x.bandwidth()+.3).attr("height",y.bandwidth()+.4).attr("fill",d=>d3.interpolateBlues(d));
  });
  [[0,"Site 1",l1],[1,"Site 2",l2]].forEach(([ci,s,l])=>{
    const cx=x(ci)+x.bandwidth()/2;seg(cx,b.y1,cx,b.y1+2,"#555",.8);
    txt(cx,738,s,{size:9.4,fill:"#333"});txt(cx,749,l,{size:9.4,fill:"#333"});
  });
  const id="cb"+Math.round(cb.x);
  const g=defs.append("linearGradient").attr("id",id);
  d3.range(0,1.01,.1).forEach(t=>g.append("stop").attr("offset",t).attr("stop-color",d3.interpolateBlues(t)));
  svg.append("rect").attr("x",cb.x).attr("y",cb.y).attr("width",38.5).attr("height",18).attr("fill",`url(#${id})`);
  [[0,"0"],[.5,"0.5"],[1,"1"]].forEach(([t,s])=>txt(cb.x+t*38.5,cb.y-9.5,s,{size:11,fill:"#000"}));
}
function bracket(x,hook,y0,y1,tickY,label,labelX){
  svg.append("path").attr("d",d3.line()([[x+hook,y0],[x,y0],[x,y1],[x+hook,y1]])).attr("fill","none").attr("stroke","#000").attr("stroke-width",2.4);
  seg(x-3,tickY,x,tickY,"#000",2.4);
  txt(labelX,tickY,label,{size:15.5,fill:"#111",anchor:"end"});
}
panelI({x0:81,x1:195,y0:568.3,y1:729},heat1Site1,heat1Site2,"(44717894)","(44717898)",{x:112.7,y:542.7});
panelI({x0:265.7,x1:379.3,y0:568.3,y1:729},heat2Site1,heat2Site2,"(44718109)","(44718053)",{x:296.7,y:540.5});
bracket(75,5,569,659,614,"U1",69);
bracket(75,5,661,728.5,694,"Ψ1",69);
bracket(258,5,567,634,601.7,"Ψ1",254);
bracket(259.5,4,635,727.3,681.7,"U1",252);
plab(4,512,"i");

// ---------- PANEL j ----------
function panelJ(b,psi,u,title,xlab,ylabX,xd){
  const x=d3.scaleLinear().domain(xd).range([b.x0,b.x1]);
  const y=d3.scaleLinear().domain([-.0499,1.0497]).range([b.y1,b.y0]);
  const line=d3.line().x(d=>x(d[0])).y(d=>y(d[1]));
  svg.append("path").datum(u).attr("d",line).attr("fill","none").attr("stroke","#9fd4ee").attr("stroke-width",1.5);
  svg.append("path").datum(psi).attr("d",line).attr("fill","none").attr("stroke","#1c1ce8").attr("stroke-width",1.6);
  frame(b,"#aaa",1);
  const v=[0,.25,.5,.75,1];
  xAxis(x,b.y1,v,d3.format(".2f"),{font:LB,size:8.6,fill:"#666",tick:2,pad:1.5});
  yAxis(y,b.x0,v,d3.format(".2f"),{font:LB,size:8.6,fill:"#666",tick:2,pad:1.5});
  txt(b.x0,535.7,title,{font:LB,size:8.6,anchor:"start",fill:"#333"});
  txt((b.x0+b.x1)/2-.5,742.7,xlab,{font:LB,size:10,fill:"#333"});
  txt(ylabX,635,"Fraction of reads",{font:LB,size:9.8,fill:"#333",rot:-90});
}
panelJ({x0:507.7,x1:619.3,y0:543.3,y1:726},j1Psi,j1U,"B2M 44717894 44717898","Prob Ψ site 2",482,[-.055,1.05]);
panelJ({x0:656.7,x1:768.3,y0:543.3,y1:726},j2Psi,j2U,"B2M 44718109 44718053","Prob Ψ at site 2",631,[-.049,1.049]);
txt(561.7,766.7,"Identity at site 1",{font:LB,size:9.6,anchor:"start",fill:"#333"});
seg(635,766.7,645,766.7,"#9fd4ee",1.6);txt(653,766.7,"U",{font:LB,size:8,fill:"#444"});
seg(662,766.7,672,766.7,"#1c1ce8",1.6);txt(681,766.7,"Ψ",{font:LB,size:8,fill:"#444"});
plab(397,512,"j");

// ---------- PANEL k ----------
const kColor=d3.scaleLinear().domain([-10,-7.5,-5,-2.5,0]).range(["#ff0000","#ff5a3e","#ff9d8c","#e4d6d3","#cccccc"]).clamp(true);
function parseRow(str){
  const out=new Map();
  str.split(" ").filter(Boolean).forEach(tok=>{
    const [c,v]=tok.split(":");const [a,z]=c.split("-").map(Number);
    for(let i=a;i<=(z===undefined?a:z);i++)out.set(i,v);
  });return out;
}
const kY0=540.7,kY1=714.3;
const kX0s=[890,1070,1251.7],kW=174;
const kY=d3.scaleBand().domain(d3.range(31)).range([kY0,kY1]);
kPanels.forEach((p,pi)=>{
  const x=d3.scaleBand().domain(d3.range(31)).range([kX0s[pi],kX0s[pi]+kW]);
  const cells=[];
  p.rows.forEach((r,k)=>{const m=parseRow(r);d3.range(31).forEach(c=>{
    if(p.whiteCols.includes(c)||p.whiteRows.includes(k))return;
    const v=m.has(c)?m.get(c):"0";cells.push({c,k,v});
  });});
  svg.append("g").selectAll("rect").data(cells).join("rect").attr("x",d=>x(d.c)).attr("y",d=>kY(d.k)).attr("width",x.bandwidth()+.2).attr("height",kY.bandwidth()+.2)
    .attr("fill",d=>d.v==="X"?"#6b0000":kColor(+d.v===0?0:-(+d.v)-.5));
  frame({x0:kX0s[pi],x1:kX0s[pi]+kW,y0:kY0,y1:kY1},"#222",1.1);
  svg.append("g").selectAll("text").data(kSites).join("text").text(d=>d)
    .attr("transform",(d,i)=>`translate(${x(i)+x.bandwidth()/2+2.6},716) rotate(-90)`)
    .attr("text-anchor","end").attr("font-family",LB).attr("font-size",8.6).attr("fill","#666");
  txt(kX0s[pi]+kW/2,530.7,p.title,{font:LB,size:9.6,fill:"#333"});
});
svg.append("g").selectAll("text").data(kSites).join("text").text(d=>d).attr("x",888).attr("y",(d,i)=>kY(30-i)+kY.bandwidth()/2).attr("dominant-baseline","central")
  .attr("text-anchor","end").attr("font-family",LB).attr("font-size",8.6).attr("fill","#666");
txt(841,628,"Site 2",{font:LB,size:13.5,fill:"#222",rot:-90});
txt(1157,762,"Site 1",{font:LB,size:13.5,fill:"#222"});
txt(1435,627,"B2M",{font:LB,size:9.6,fill:"#333",rot:90});
txt(1077,802,"log(p_value)",{font:LB,size:13,anchor:"start",fill:"#222"});
{
  const g=defs.append("linearGradient").attr("id","kbar");
  kLegendTicks.forEach(v=>g.append("stop").attr("offset",(v+10)/10).attr("stop-color",kColor(v)));
  svg.append("rect").attr("x",1156.7).attr("y",784.7).attr("width",82.6).attr("height",16).attr("fill","url(#kbar)");
  const lx=d3.scaleLinear().domain([-10,0]).range([1156.7,1239.3]);
  kLegendTicks.forEach(v=>txt(lx(v),812,d3.format(".1f")(v),{font:LB,size:10.8,fill:"#222"}));
}
plab(809,512,"k");
</script>
</body></html>
